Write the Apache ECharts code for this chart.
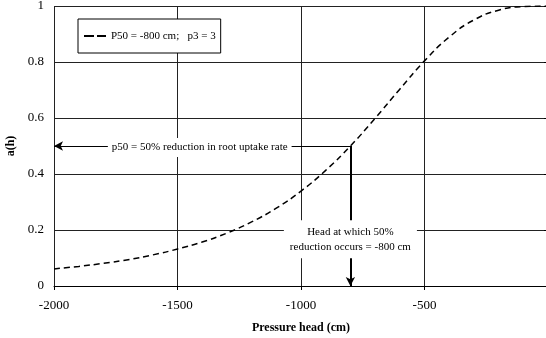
<!DOCTYPE html>
<html>
<head>
<meta charset="utf-8">
<script src="https://cdn.jsdelivr.net/npm/echarts@6/dist/echarts.min.js"></script>
<style>
  html, body { margin: 0; padding: 0; background: #fff; }
  #main { width: 546px; height: 338px; }
</style>
</head>
<body>
<div id="main"></div>
<script>
// pressure head (cm) and the reduction factor a(h)
var heads = [-2000, -1900, -1800, -1700, -1600, -1500, -1400, -1300, -1200, -1100, -1000,
             -900, -800, -700, -600, -500, -400, -300, -200, -100, 0];
var aValues = [0.061, 0.070, 0.081, 0.094, 0.111, 0.132, 0.157, 0.189, 0.229, 0.278, 0.339,
               0.413, 0.500, 0.599, 0.703, 0.804, 0.889, 0.950, 0.985, 0.998, 1.0];

var seriesName = 'P50 = -800 cm;   p3 = 3';
var p50Head = -800;
var p50Value = 0.5;
var hText = 'p50 = 50% reduction in root uptake rate';
var vText = 'Head at which 50%\nreduction occurs = -800 cm';
// where the two annotation texts sit (data units)
var hTextAt = [-1410, 0.495];
var vTextAt = [-800, 0.167];

var font = '"Liberation Serif", "Times New Roman", serif';

var chart = echarts.init(document.getElementById('main'));

var points = heads.map(function (h, i) { return [h, aValues[i]]; });

var option = {
  animation: false,
  textStyle: { fontFamily: font, color: '#000' },
  grid: { left: 54, top: 6, right: -2, bottom: 52, outerBoundsMode: 'none', containLabel: false },
  legend: {
    left: 78,
    top: 19,
    padding: [11, 5, 11, 6],
    itemWidth: 22,
    itemHeight: 2,
    itemGap: 5,
    borderColor: '#000',
    borderWidth: 1,
    backgroundColor: '#fff',
    textStyle: { fontFamily: font, fontSize: 11, color: '#000', lineHeight: 12 },
    data: [{
      name: seriesName,
      icon: 'path://M0,0 H10 V2 H0 Z M13,0 H22 V2 H13 Z',
      itemStyle: { color: '#000' }
    }]
  },
  xAxis: {
    type: 'value',
    min: -2000,
    max: 0,
    interval: 500,
    name: 'Pressure head (cm)',
    nameLocation: 'middle',
    nameGap: 36,
    nameTextStyle: { fontFamily: font, fontSize: 12, fontWeight: 'bold', color: '#000' },
    axisLine: { show: true, onZero: false, lineStyle: { color: '#000', width: 1 } },
    axisTick: { show: true, length: 4, lineStyle: { color: '#000' } },
    axisLabel: {
      showMaxLabel: false, margin: 13, fontFamily: font, fontSize: 13, color: '#000',
      formatter: function (v) { return String(v); }
    },
    splitLine: { show: true, lineStyle: { color: '#222', width: 1 } }
  },
  yAxis: {
    type: 'value',
    min: 0,
    max: 1,
    interval: 0.2,
    name: 'a(h)',
    nameLocation: 'middle',
    nameGap: 36,
    nameTextStyle: { fontFamily: font, fontSize: 12, fontWeight: 'bold', color: '#000' },
    axisLine: { show: true, lineStyle: { color: '#000', width: 1 } },
    axisTick: { show: true, length: 4, lineStyle: { color: '#000' } },
    axisLabel: { margin: 10, fontFamily: font, fontSize: 13, color: '#000' },
    splitLine: { show: true, lineStyle: { color: '#222', width: 1 } }
  },
  series: [
    {
      name: seriesName,
      type: 'line',
      data: points,
      showSymbol: false,
      symbol: 'none',
      smooth: true,
      itemStyle: { color: '#000' },
      lineStyle: { color: '#000', width: 1.5, type: [6, 4] },
      markLine: {
        silent: true,
        symbol: ['none', 'arrow'],
        symbolSize: [7, 9],
        label: { show: false },
        data: [
          [
            { coord: [p50Head, p50Value], lineStyle: { color: '#000', width: 1, type: 'solid' } },
            { coord: [-2000, p50Value] }
          ],
          [
            { coord: [p50Head, p50Value], lineStyle: { color: '#000', width: 2, type: 'solid' } },
            { coord: [p50Head, 0] }
          ]
        ]
      }
    },
    {
      name: 'notes',
      type: 'scatter',
      z: 5,
      silent: true,
      symbolSize: 0,
      itemStyle: { color: '#fff' },
      data: [
        { value: hTextAt, text: hText, pad: [2, 4] },
        { value: vTextAt, text: vText, pad: [4, 6] }
      ].map(function (d) {
        return {
          value: d.value,
          label: {
            show: true,
            position: 'inside',
            formatter: d.text,
            backgroundColor: '#fff',
            padding: d.pad,
            fontFamily: font,
            fontSize: 11,
            lineHeight: 15,
            color: '#000',
            textBorderWidth: 0,
            opacity: 1,
            align: 'center'
          }
        };
      })
    }
  ]
};

chart.setOption(option);
</script>
</body>
</html>
